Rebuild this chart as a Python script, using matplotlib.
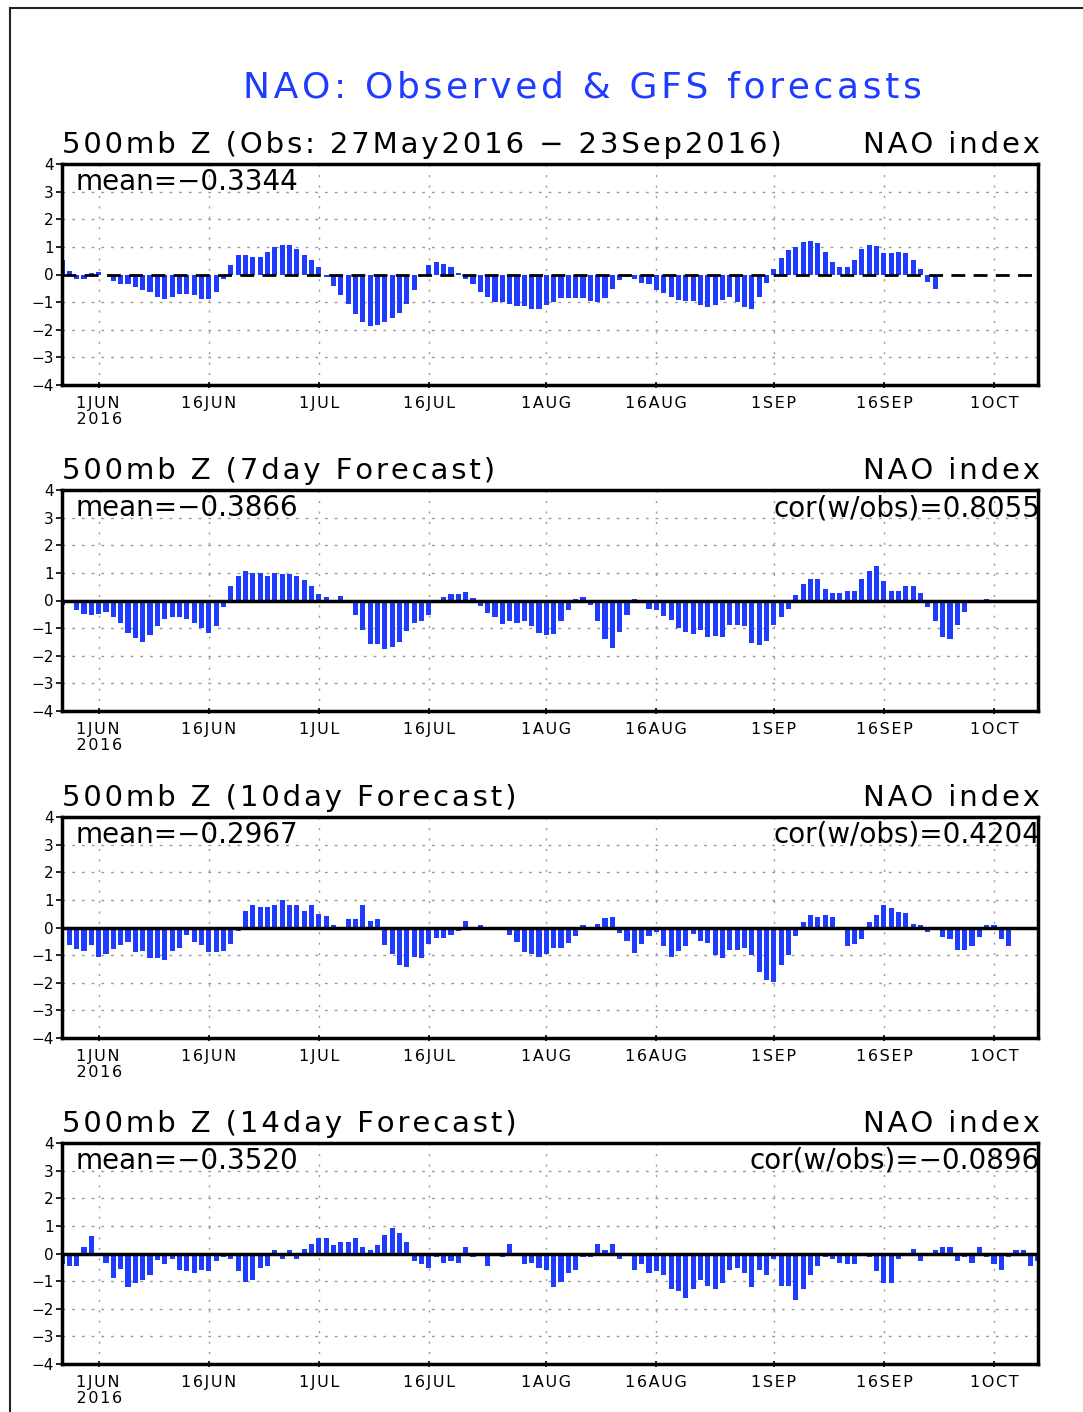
import numpy as np
import pandas as pd
import matplotlib
matplotlib.use("Agg")
import matplotlib.pyplot as plt
from matplotlib.lines import Line2D

# NAO daily values, starting 27 May 2016
obs = [0.54, 0.14, -0.18, -0.18, 0.05, 0.08, -0.02, -0.24, -0.36, -0.36,
       -0.44, -0.56, -0.63, -0.81, -0.87, -0.81, -0.69, -0.69, -0.74, -0.87,
       -0.87, -0.62, -0.18, 0.33, 0.70, 0.70, 0.64, 0.64, 0.83, 1.01,
       1.07, 1.07, 0.92, 0.71, 0.51, 0.26, -0.08, -0.43, -0.75, -1.07,
       -1.43, -1.73, -1.88, -1.82, -1.73, -1.57, -1.40, -1.07, -0.55, -0.02,
       0.33, 0.45, 0.39, 0.26, 0.06, -0.17, -0.36, -0.62, -0.81, -0.98,
       -1.01, -1.07, -1.13, -1.13, -1.25, -1.25, -1.11, -0.98, -0.86, -0.86,
       -0.86, -0.86, -0.95, -0.98, -0.86, -0.54, -0.21, -0.10, -0.15, -0.30,
       -0.36, -0.55, -0.68, -0.80, -0.93, -0.95, -0.95, -1.11, -1.17, -1.11,
       -0.93, -0.80, -0.99, -1.17, -1.25, -0.80, -0.30, 0.20, 0.60, 0.89,
       1.01, 1.17, 1.23, 1.15, 0.83, 0.44, 0.26, 0.26, 0.52, 0.92,
       1.07, 1.04, 0.77, 0.77, 0.83, 0.77, 0.51, 0.20, -0.27, -0.54]

fc7 = [-0.18, -0.05, -0.34, -0.48, -0.54, -0.48, -0.40, -0.59, -0.80, -1.18,
       -1.36, -1.51, -1.24, -0.92, -0.66, -0.59, -0.59, -0.66, -0.80, -0.98,
       -1.18, -0.92, -0.22, 0.54, 0.87, 1.07, 1.01, 1.01, 0.89, 1.01,
       0.95, 0.95, 0.87, 0.75, 0.54, 0.23, 0.11, 0.02, 0.17, 0.00,
       -0.54, -1.06, -1.58, -1.58, -1.76, -1.70, -1.51, -1.12, -0.80, -0.73,
       -0.54, -0.10, 0.14, 0.23, 0.23, 0.29, 0.08, -0.19, -0.46, -0.60,
       -0.86, -0.73, -0.80, -0.73, -0.92, -1.18, -1.25, -1.20, -0.76, -0.36,
       0.06, 0.12, -0.16, -0.76, -1.41, -1.72, -1.14, -0.51, 0.06, 0.00,
       -0.30, -0.36, -0.57, -0.69, -1.00, -1.14, -1.20, -1.08, -1.33, -1.27,
       -1.33, -0.88, -0.88, -0.94, -1.53, -1.60, -1.47, -0.88, -0.61, -0.30,
       0.20, 0.58, 0.78, 0.78, 0.40, 0.27, 0.27, 0.34, 0.34, 0.78,
       1.05, 1.24, 0.72, 0.34, 0.34, 0.52, 0.52, 0.27, -0.24, -0.76,
       -1.33, -1.41, -0.88, -0.42, 0.00, 0.00, 0.06]

fc10 = [-0.10, -0.65, -0.79, -0.85, -0.65, -1.05, -0.96, -0.79, -0.65, -0.54,
        -0.90, -0.85, -1.11, -1.11, -1.17, -0.85, -0.73, -0.27, -0.54, -0.65,
        -0.90, -0.90, -0.85, -0.60, -0.13, 0.60, 0.80, 0.74, 0.74, 0.80,
        1.00, 0.80, 0.80, 0.60, 0.80, 0.48, 0.42, 0.08, 0.00, 0.29,
        0.29, 0.80, 0.23, 0.29, -0.65, -0.96, -1.35, -1.43, -1.05, -1.11,
        -0.60, -0.39, -0.39, -0.27, -0.13, 0.23, -0.05, 0.10, 0.00, 0.00,
        0.00, -0.27, -0.54, -0.90, -0.96, -1.05, -0.97, -0.74, -0.74, -0.55,
        -0.29, 0.08, 0.00, 0.14, 0.33, 0.39, -0.20, -0.50, -0.92, -0.61,
        -0.29, -0.17, -0.67, -1.06, -0.86, -0.67, -0.23, -0.50, -0.55, -0.98,
        -1.12, -0.80, -0.80, -0.74, -0.98, -1.62, -1.90, -1.96, -1.36, -0.98,
        -0.29, 0.20, 0.45, 0.39, 0.45, 0.39, 0.00, -0.67, -0.61, -0.42,
        0.20, 0.45, 0.83, 0.71, 0.57, 0.51, 0.14, 0.08, -0.17, 0.00,
        -0.36, -0.42, -0.80, -0.80, -0.67, -0.36, 0.08, 0.08, -0.42, -0.67]

fc14 = [-0.39, -0.45, -0.45, 0.24, 0.62, 0.00, -0.33, -0.90, -0.57, -1.23,
        -1.08, -0.96, -0.77, -0.25, -0.39, -0.19, -0.60, -0.65, -0.71, -0.60,
        -0.65, -0.27, -0.13, -0.19, -0.65, -1.02, -0.96, -0.51, -0.45, 0.11,
        -0.19, 0.11, -0.19, 0.17, 0.36, 0.56, 0.56, 0.30, 0.42, 0.42,
        0.56, 0.24, 0.11, 0.30, 0.68, 0.94, 0.74, 0.42, -0.27, -0.39,
        -0.51, -0.13, -0.33, -0.27, -0.33, 0.24, -0.13, 0.00, -0.45, 0.00,
        -0.13, 0.36, 0.00, -0.39, -0.33, -0.51, -0.60, -1.23, -1.02, -0.71,
        -0.60, -0.13, -0.13, 0.36, 0.11, 0.36, -0.19, 0.00, -0.60, -0.39,
        -0.71, -0.65, -0.77, -1.29, -1.35, -1.61, -1.29, -0.96, -1.17, -1.29,
        -1.08, -0.60, -0.51, -0.71, -1.23, -0.60, -0.77, -0.19, -1.17, -1.17,
        -1.68, -1.29, -0.77, -0.45, -0.13, -0.19, -0.33, -0.39, -0.39, 0.00,
        -0.13, -0.65, -1.08, -1.08, -0.19, 0.00, 0.17, -0.27, -0.04, 0.11,
        0.24, 0.24, -0.27, -0.13, -0.33, 0.24, -0.13, -0.39, -0.60, -0.13,
        0.11, 0.11, -0.45, -0.27]

titles = ["500mb Z (Obs: 27May2016 \u2212 23Sep2016)",
          "500mb Z (7day Forecast)",
          "500mb Z (10day Forecast)",
          "500mb Z (14day Forecast)"]
means = ["\u22120.3344", "\u22120.3866", "\u22120.2967", "\u22120.3520"]
cors = [None, "0.8055", "0.4204", "\u22120.0896"]
series = [obs, fc7, fc10, fc14]

tick_dates = pd.to_datetime(["2016-06-01", "2016-06-16", "2016-07-01", "2016-07-16",
                             "2016-08-01", "2016-08-16", "2016-09-01", "2016-09-16",
                             "2016-10-01"])
tick_labels = ["1JUN\n2016", "16JUN", "1JUL", "16JUL", "1AUG", "16AUG",
               "1SEP", "16SEP", "1OCT"]
start = pd.Timestamp("2016-05-27")
end = pd.Timestamp("2016-10-07")


def spaced(s, n=1):
    # GrADS fonts are wide: pad the letters with hair spaces
    return ("\u200a" * n).join(s)


blue = "#1e3cff"
W, H = 1083, 1412
fig = plt.figure(figsize=(W / 100, H / 100), dpi=100)

# outer frame
fig.add_artist(Line2D([10 / W, 10 / W], [0, 1 - 8 / H], transform=fig.transFigure,
                      color="#222222", lw=1.5))
fig.add_artist(Line2D([10 / W, 1], [1 - 8 / H, 1 - 8 / H], transform=fig.transFigure,
                      color="#222222", lw=1.5))

fig.text(582 / W, 1 - 88 / H, spaced("NAO: Observed & GFS forecasts"), color=blue,
         fontsize=26, ha="center", va="center")

tops = [164, 490, 817, 1143]
for i, vals in enumerate(series):
    top = tops[i]
    ax = fig.add_axes([62 / W, 1 - (top + 221) / H, 976 / W, 221 / H])
    dates = pd.date_range(start, periods=len(vals), freq="D")
    ax.bar(dates, vals, width=0.7, color=blue, zorder=2)
    ax.set_xlim(start, end)
    ax.set_ylim(-4, 4)
    ax.set_yticks(range(-4, 5))
    ax.set_xticks(tick_dates)
    ax.set_xticklabels([spaced(t) for t in tick_labels], fontsize=11.5, linespacing=1.1)
    ax.tick_params(axis="y", labelsize=11, length=4, width=1.2, pad=2)
    ax.tick_params(axis="x", length=4, width=1.2, pad=6, direction="inout")
    for s in ax.spines.values():
        s.set_linewidth(2.5)
    for y in range(-3, 4):
        if y != 0:
            ax.axhline(y, color="#999999", lw=1.0, ls=(0, (2, 5)), zorder=1)
    for d in tick_dates:
        ax.axvline(d, color="#999999", lw=1.0, ls=(0, (1.5, 6)), zorder=1)
    if i == 0:
        ax.axhline(0, color="black", lw=2, ls=(0, (5, 3)), zorder=3)
    else:
        ax.axhline(0, color="black", lw=2.5, zorder=3)

    ax.text(0, 1 + 11 / 221, spaced(titles[i]), transform=ax.transAxes, fontsize=21,
            ha="left", va="baseline")
    ax.text(1.002, 1 + 11 / 221, spaced("NAO index"), transform=ax.transAxes,
            fontsize=21, ha="right", va="baseline")
    ax.text(13 / 976, 1 - 26 / 221, "mean=" + means[i], transform=ax.transAxes,
            fontsize=20, ha="left", va="baseline", zorder=4)
    if cors[i] is not None:
        ax.text(1.002, 1 - 26 / 221, "cor(w/obs)=" + cors[i],
                transform=ax.transAxes, fontsize=20, ha="right", va="baseline", zorder=4)

fig.savefig("out.png", dpi=100)
